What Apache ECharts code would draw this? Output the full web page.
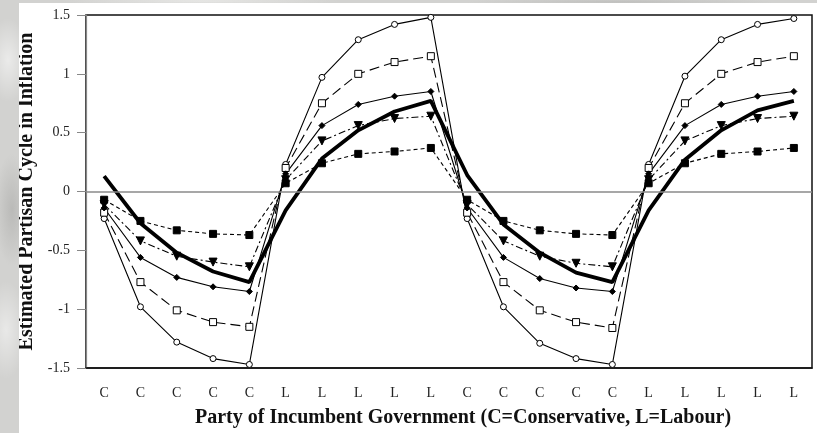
<!DOCTYPE html>
<html>
<head>
<meta charset="utf-8">
<script src="https://cdn.jsdelivr.net/npm/echarts@6/dist/echarts.min.js"></script>
<style>
  html, body { margin: 0; padding: 0; width: 817px; height: 433px; overflow: hidden; }
  body {
    background-color: #d2d2d0;
    background-image:
      radial-gradient(ellipse 30px 60px at 8px 60px, rgba(255,255,255,0.55), rgba(255,255,255,0) 70%),
      radial-gradient(ellipse 25px 80px at 12px 210px, rgba(170,170,168,0.6), rgba(170,170,168,0) 70%),
      radial-gradient(ellipse 30px 70px at 6px 330px, rgba(255,255,255,0.5), rgba(255,255,255,0) 70%),
      radial-gradient(ellipse 200px 6px at 200px 1px, rgba(240,240,238,0.7), rgba(240,240,238,0) 70%),
      radial-gradient(ellipse 220px 6px at 620px 2px, rgba(180,180,178,0.6), rgba(180,180,178,0) 70%);
  }
  #chart { position: absolute; left: 19px; top: 3px; width: 798px; height: 430px; background: #ffffff; }
</style>
</head>
<body>
<div id="chart"></div>
<script>
// Party of the incumbent government for each period (two full C/L cycles)
const parties = ['C','C','C','C','C','L','L','L','L','L','C','C','C','C','C','L','L','L','L','L'];

// Estimated partisan cycle in inflation, one array per model
const seriesCircle   = [-0.23,-0.98,-1.28,-1.42,-1.47, 0.23,0.97,1.29,1.42,1.48, -0.23,-0.98,-1.29,-1.42,-1.47, 0.23,0.98,1.29,1.42,1.47];
const seriesOpenSq   = [-0.18,-0.77,-1.01,-1.11,-1.15, 0.20,0.75,1.00,1.10,1.15, -0.18,-0.77,-1.01,-1.11,-1.16, 0.20,0.75,1.00,1.10,1.15];
const seriesDiamond  = [-0.14,-0.56,-0.73,-0.81,-0.85, 0.15,0.56,0.74,0.81,0.85, -0.14,-0.56,-0.74,-0.82,-0.85, 0.15,0.56,0.74,0.81,0.85];
const seriesTriangle = [-0.11,-0.42,-0.55,-0.60,-0.64, 0.10,0.43,0.56,0.62,0.64, -0.11,-0.42,-0.55,-0.61,-0.64, 0.10,0.43,0.56,0.62,0.64];
const seriesFilledSq = [-0.07,-0.25,-0.33,-0.36,-0.37, 0.07,0.24,0.32,0.34,0.37, -0.07,-0.25,-0.33,-0.36,-0.37, 0.07,0.24,0.32,0.34,0.37];
const seriesThick    = [ 0.13,-0.27,-0.52,-0.68,-0.77,-0.16,0.28,0.52,0.68,0.77,  0.14,-0.28,-0.52,-0.69,-0.77,-0.16,0.27,0.52,0.69,0.77];

const yTicks = { min: -1.5, max: 1.5, interval: 0.5 };

const serif = '"Liberation Serif", "DejaVu Serif", serif';
const ink = '#000000';

function thinSeries(name, data, symbol, size, fill, lineType, rotate) {
  return {
    name: name,
    type: 'line',
    data: data,
    symbol: symbol,
    symbolSize: size,
    symbolRotate: rotate || 0,
    showAllSymbol: true,
    lineStyle: { color: ink, width: 1.1, type: lineType },
    itemStyle: { color: fill, borderColor: ink, borderWidth: 1 },
    z: 3
  };
}

const chart = echarts.init(document.getElementById('chart'), null, { renderer: 'canvas' });

chart.setOption({
  animation: false,
  backgroundColor: '#ffffff',
  grid: {
    left: 67, top: 12, width: 726, height: 353,
    outerBoundsMode: 'none',
    containLabel: false,
    show: true, borderColor: '#111', borderWidth: 1.5, backgroundColor: 'transparent'
  },
  xAxis: {
    type: 'category',
    data: parties,
    boundaryGap: true,
    name: 'Party of Incumbent Government (C=Conservative, L=Labour)',
    nameLocation: 'middle',
    nameGap: 40,
    nameTextStyle: {
      fontFamily: serif, fontWeight: 'bold', fontSize: 20, color: '#111',
      padding: [0, 0, 0, 28]
    },
    axisLine: { onZero: false, lineStyle: { color: '#111', width: 1.5 } },
    axisTick: { alignWithLabel: true, length: 9, lineStyle: { color: '#444', width: 1 } },
    axisLabel: { fontFamily: serif, fontSize: 14, color: '#222', margin: 18, interval: 0 },
    splitLine: { show: false }
  },
  yAxis: {
    type: 'value',
    min: yTicks.min, max: yTicks.max, interval: yTicks.interval,
    name: 'Estimated Partisan Cycle in Inflation',
    nameLocation: 'middle',
    nameGap: 43,
    nameTextStyle: { fontFamily: serif, fontWeight: 'bold', fontSize: 20, color: '#111' },
    axisLine: { show: true, lineStyle: { color: '#888', width: 1.2 } },
    axisTick: { show: true, length: 9, lineStyle: { color: '#888', width: 1 } },
    axisLabel: {
      fontFamily: serif, fontSize: 14, color: '#222', margin: 16,
      formatter: v => String(Math.round(v * 10) / 10)
    },
    splitLine: { show: false }
  },
  series: [
    Object.assign(thinSeries('circle', seriesCircle, 'circle', 6, '#ffffff', 'solid'), {
      markLine: {
        silent: true, symbol: 'none', label: { show: false },
        lineStyle: { color: '#8a8a8a', width: 1.5, type: 'solid' },
        data: [{ yAxis: 0 }]
      }
    }),
    thinSeries('openSquare', seriesOpenSq, 'rect', 7, '#ffffff', [10, 5]),
    thinSeries('diamond', seriesDiamond, 'diamond', 6, ink, 'solid'),
    thinSeries('triangle', seriesTriangle, 'triangle', 8, ink, [7, 3, 2, 3], 180),
    thinSeries('filledSquare', seriesFilledSq, 'rect', 7, ink, [4, 3]),
    {
      name: 'thick',
      type: 'line',
      data: seriesThick,
      symbol: 'none',
      lineStyle: { color: ink, width: 3.8, type: 'solid' },
      z: 4
    }
  ]
});
</script>
</body>
</html>
